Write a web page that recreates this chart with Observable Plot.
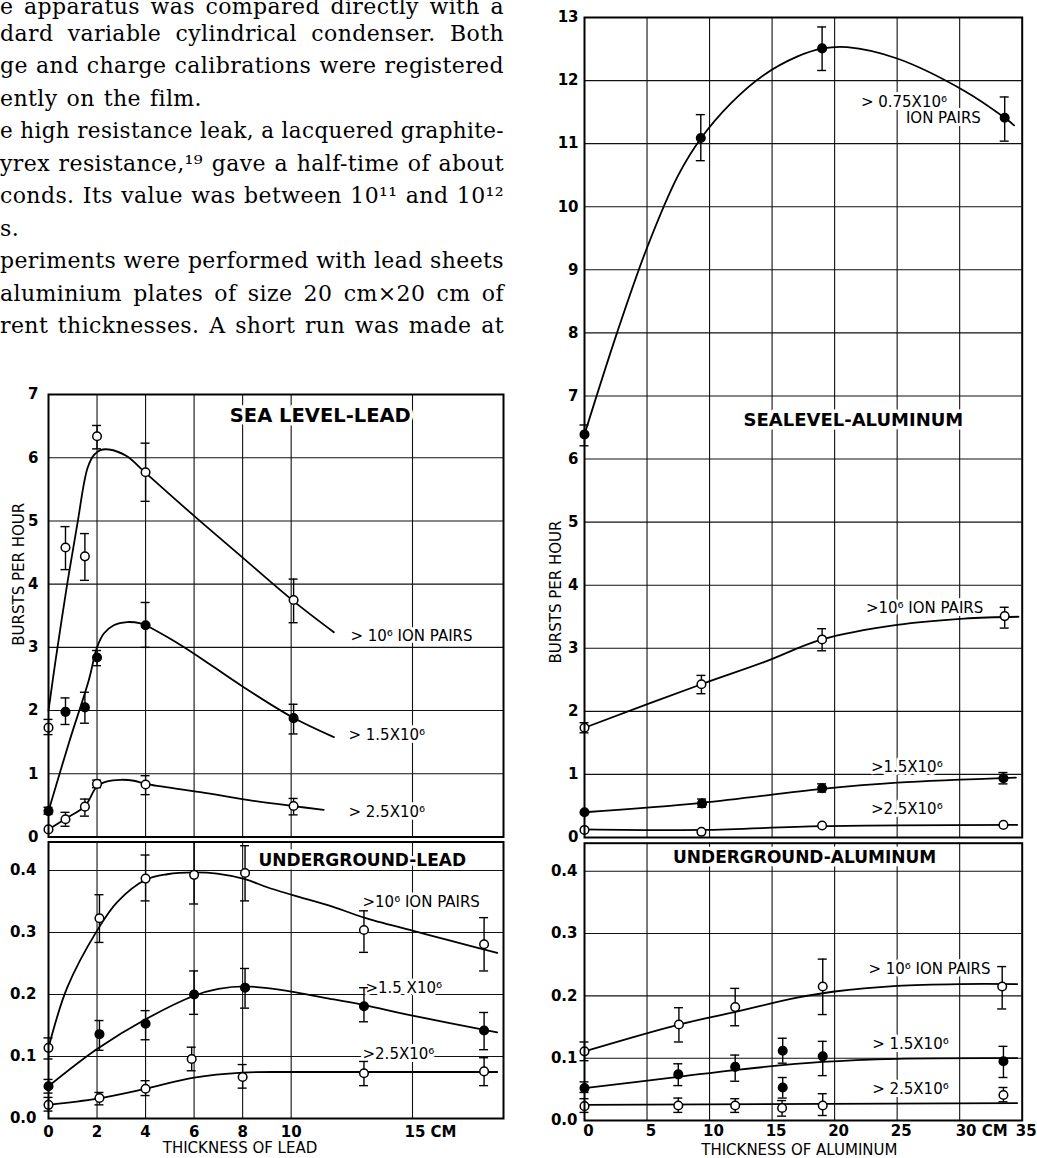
<!DOCTYPE html>
<html><head><meta charset="utf-8">
<script src="https://cdn.jsdelivr.net/npm/d3@7"></script>
<script src="https://cdn.jsdelivr.net/npm/@observablehq/plot@0.6"></script>
<style>
body{margin:0;background:#fff;}
#page{position:relative;width:1037px;height:1158px;overflow:hidden;background:#fff;}
#page svg{position:absolute;}
</style></head><body><div id="page"></div>
<script>
// ---------- prose lines (cropped text column) ----------
const proseLines = [
  "e apparatus was compared directly with a",
  "dard variable cylindrical condenser. Both",
  "ge and charge calibrations were registered",
  "ently on the film.",
  "e high resistance leak, a lacquered graphite-",
  "yrex resistance,¹⁹ gave a half-time of about",
  "conds. Its value was between 10¹¹ and 10¹²",
  "s.",
  "periments were performed with lead sheets",
  "aluminium plates of size 20 cm×20 cm of",
  "rent thicknesses. A short run was made at"
];

// ---------- tick values ----------
const leadTicksX = [0, 2, 4, 6, 8, 10];
const leadTickCM = [15];
const leadGridX = [2, 4, 6, 8, 10, 15];
const alTicksX = [0, 5, 10, 15, 20, 25, 35];
const alTickCM = [30];
const alGridX = [5, 10, 15, 20, 25, 30];
const slLeadTicksY = [0, 1, 2, 3, 4, 5, 6, 7];
const slLeadGridY = [1, 2, 3, 4, 5, 6];
const slAlTicksY = [0, 1, 2, 3, 4, 5, 6, 7, 8, 9, 10, 11, 12, 13];
const slAlGridY = [1, 2, 3, 4, 5, 6, 7, 8, 9, 10, 11, 12];
const ugTicksY = [0, 0.1, 0.2, 0.3, 0.4];
const ugGridY = [0.1, 0.2, 0.3, 0.4];

// ---------- SEA LEVEL - LEAD : [thickness cm, bursts/h, low, high] ----------
const slLead1e6 = [[0,1.73,1.62,1.86],[0.7,4.58,4.23,4.91],[1.5,4.44,4.06,4.80],[2.0,6.34,6.14,6.51],[4.0,5.77,5.31,6.23],[10.1,3.75,3.39,4.08]];
const slLead1e6Curve = [[0,2.0],[0.29,2.79],[0.77,4.0],[1.21,5.0],[1.46,5.59],[1.62,5.85],[1.87,6.04],[2.14,6.12],[2.49,6.13],[3.2,6.03],[4.0,5.76],[6.0,5.08],[8.0,4.42],[10.07,3.74],[11.76,3.24]];
const slLead15e6 = [[0,0.41,0.36,0.47],[0.7,1.98,1.78,2.20],[1.5,2.05,1.80,2.29],[2.0,2.84,2.71,2.95],[4.0,3.35,3.00,3.71],[10.1,1.88,1.63,2.10]];
const slLead15e6Curve = [[0,0.41],[0.85,1.5],[1.66,2.48],[2.0,3.0],[2.28,3.22],[2.69,3.35],[3.24,3.40],[3.79,3.38],[4.0,3.35],[5.0,3.14],[6.0,2.90],[8.0,2.38],[10.07,1.89],[11.76,1.58]];
const slLead25e6 = [[0,0.12,null,null],[0.7,0.28,0.17,0.39],[1.5,0.48,0.33,0.60],[2.0,0.84,0.78,0.90],[4.0,0.83,0.67,0.97],[10.1,0.49,0.35,0.61]];
const slLead25e6Curve = [[0,0.12],[0.7,0.29],[1.5,0.49],[2.0,0.80],[2.42,0.88],[2.97,0.905],[3.52,0.89],[4.0,0.84],[6.26,0.71],[8.32,0.58],[10.07,0.49],[11.34,0.43]];

// ---------- UNDERGROUND - LEAD ----------
const ugLead1e6 = [[0,0.114,0.096,0.13],[2.1,0.323,0.284,0.361],[4.0,0.387,0.351,0.425],[6.0,0.393,0.346,0.446],[8.1,0.396,0.351,0.44],[13.0,0.304,0.268,0.335],[17.95,0.281,0.238,0.324]];
const ugLead1e6Curve = [[0,0.114],[0.77,0.211],[2.0,0.303],[2.83,0.349],[4.0,0.385],[4.89,0.394],[6.0,0.397],[6.95,0.395],[8.1,0.386],[9.01,0.373],[10.1,0.360],[11.76,0.341],[13.0,0.324],[15.0,0.303],[16.56,0.287],[18.49,0.267]];
const ugLead15e6 = [[0,0.052,0.041,0.063],[2.1,0.136,0.11,0.158],[4.0,0.153,0.127,0.174],[6.0,0.2,0.168,0.238],[8.1,0.211,0.178,0.242],[13.0,0.181,0.156,0.211],[17.95,0.142,0.111,0.171]];
const ugLead15e6Curve = [[0,0.052],[2.0,0.112],[4.0,0.160],[6.0,0.198],[7.0,0.209],[8.1,0.213],[9.5,0.208],[11.76,0.192],[13.0,0.183],[15.0,0.166],[18.49,0.139]];
const ugLead25e6 = [[0,0.022,0.012,0.034],[2.1,0.033,0.022,0.042],[4.0,0.048,0.037,0.061],[5.9,0.096,0.077,0.115],[8.0,0.067,0.049,0.087],[13.0,0.073,0.053,0.092],[17.95,0.076,0.053,0.098]];
const ugLead25e6Curve = [[0,0.022],[2.0,0.032],[4.0,0.048],[6.0,0.066],[8.0,0.074],[10.0,0.075],[13.0,0.075],[18.49,0.075]];

// ---------- SEA LEVEL - ALUMINUM ----------
const slAl075e6 = [[0,6.39,6.21,6.54],[9.3,11.09,10.73,11.46],[19.0,12.51,12.16,12.85],[33.6,11.41,11.04,11.74]];
const slAl075e6Curve = [[0,6.39],[2.6,8.0],[5.0,9.35],[7.5,10.5],[9.33,11.09],[11.7,11.64],[14.35,12.09],[17.0,12.38],[19.07,12.51],[21.0,12.53],[25.0,12.35],[30.35,11.84],[33.6,11.41],[34.35,11.29]];
const slAl1e6 = [[0,1.74,1.66,1.82],[9.35,2.43,2.28,2.57],[19.0,3.14,2.96,3.31],[33.6,3.51,3.32,3.65]];
const slAl1e6Curve = [[0,1.74],[9.35,2.43],[14.35,2.78],[19.0,3.14],[25.0,3.37],[30.35,3.47],[34.7,3.50]];
const slAl15e6 = [[0,0.40,null,null],[9.4,0.54,0.48,0.61],[19.0,0.78,0.72,0.85],[33.5,0.94,0.85,1.03]];
const slAl15e6Curve = [[0,0.40],[9.4,0.55],[19.0,0.77],[25.0,0.87],[34.5,0.95]];
const slAl25e6 = [[0,0.12,null,null],[9.35,0.09,null,null],[19.0,0.19,null,null],[33.5,0.20,null,null]];
const slAl25e6Curve = [[0,0.13],[9.4,0.12],[19.0,0.18],[34.6,0.20]];

// ---------- UNDERGROUND - ALUMINUM ----------
const ugAl1e6 = [[0,0.111,0.096,0.126],[7.55,0.154,0.126,0.181],[12.05,0.182,0.152,0.212],[19.05,0.215,0.17,0.259],[33.4,0.215,0.179,0.247]];
const ugAl1e6Curve = [[0,0.111],[7.55,0.154],[12.0,0.174],[17.0,0.197],[20.0,0.207],[25.0,0.216],[30.0,0.219],[34.6,0.219]];
const ugAl15e6 = [[0,0.052,0.045,0.062],[7.5,0.074,0.056,0.091],[12.05,0.086,0.063,0.105],[15.85,0.112,0.092,0.132],[15.85,0.053,0.036,0.069],[19.05,0.103,0.072,0.127],[33.5,0.095,0.069,0.119]];
const ugAl15e6Curve = [[0,0.052],[7.5,0.07],[12.0,0.081],[19.0,0.094],[25.0,0.099],[34.6,0.1]];
const ugAl25e6 = [[0,0.023,0.013,0.035],[7.5,0.024,0.013,0.036],[12.05,0.024,0.013,0.035],[15.8,0.02,0.007,0.032],[19.05,0.024,0.008,0.043],[33.5,0.041,0.03,0.053]];
const ugAl25e6Curve = [[0,0.025],[34.6,0.028]];

// ---------- annotations [x, y, text] ----------
const slLeadLabels = [[12.44,3.17,"> 10⁶ ION PAIRS"],[12.36,1.61,"> 1.5X10⁶"],[12.36,0.39,"> 2.5X10⁶"]];
const ugLeadLabels = [[12.94,0.349,">10⁶ ION PAIRS"],[13.06,0.211,">1.5 X10⁶"],[12.94,0.104,">2.5X10⁶"]];
const slAlLabels = [[22.1,11.66,"> 0.75X10⁶"],[25.7,11.41,"ION PAIRS"],[22.5,3.63,">10⁶ ION PAIRS"],[22.9,1.11,">1.5X10⁶"],[22.9,0.455,">2.5X10⁶"]];
const ugAlLabels = [[22.7,0.243,"> 10⁶ ION PAIRS"],[23.0,0.122,"> 1.5X10⁶"],[23.0,0.051,"> 2.5X10⁶"]];

const page = document.getElementById("page");

// prose, justified by word spacing
(function(){
  const ns = "http://www.w3.org/2000/svg";
  const svg = document.createElementNS(ns, "svg");
  svg.setAttribute("width", 520); svg.setAttribute("height", 345);
  svg.style.left = "0px"; svg.style.top = "0px";
  page.appendChild(svg);
  const widths = [504,504,504,202,504,504,504,0,504,504,504];
  proseLines.forEach((s, i) => {
    const t = document.createElementNS(ns, "text");
    t.setAttribute("x", 0);
    t.setAttribute("y", i === 0 ? 14 : 8.2 + 32.5 * i);
    t.setAttribute("font-family", "DejaVu Serif");
    t.setAttribute("font-size", 22);
    t.setAttribute("fill", "#000");
    t.style.letterSpacing = "0.4px";
    t.textContent = s;
    svg.appendChild(t);
    const target = widths[i];
    if (target) {
      const natural = t.getComputedTextLength();
      const spaces = (s.match(/ /g) || []).length;
      if (natural < target && spaces) {
        t.style.wordSpacing = ((target - natural) / spaces) + "px";
      } else if (natural > target) {
        t.setAttribute("textLength", target);
        t.setAttribute("lengthAdjust", "spacingAndGlyphs");
      }
    }
  });
})();

function panel(o) {
  const cap = 4.5 * (o.xDomain[1] - o.xDomain[0]) / (o.width - o.ml - o.mr);
  const marks = [
    Plot.ruleY(o.yGrid, {stroke: "#111", strokeWidth: 1.1}),
    Plot.ruleX(o.xGrid, {stroke: "#111", strokeWidth: 1.1})
  ];
  if (o.title) marks.push(Plot.text([o.title], {x: o.title[0], y: o.title[1], text: d => d[2], fontSize: o.title[3], fontWeight: "bold", stroke: "white", strokeWidth: 7, fill: "#000"}));
  marks.push(Plot.text(o.labels, {x: d => d[0], y: d => d[1], text: d => d[2], textAnchor: "start", fontSize: 15, stroke: "white", strokeWidth: 6, fill: "#000"}));
  for (const s of o.series) {
    marks.push(Plot.line(s.curve, {x: d => d[0], y: d => d[1], curve: "catmull-rom", stroke: "#000", strokeWidth: 1.8}));
  }
  for (const s of o.series) {
    const e = s.pts.filter(p => p[2] != null);
    marks.push(Plot.ruleX(e, {x: d => d[0], y1: d => d[2], y2: d => d[3], stroke: "#000", strokeWidth: 1.4}));
    marks.push(Plot.ruleY(e, {y: d => d[2], x1: d => d[0] - cap, x2: d => d[0] + cap, stroke: "#000", strokeWidth: 1.4}));
    marks.push(Plot.ruleY(e, {y: d => d[3], x1: d => d[0] - cap, x2: d => d[0] + cap, stroke: "#000", strokeWidth: 1.4}));
    marks.push(Plot.dot(s.pts, {x: d => d[0], y: d => d[1], r: 4.3, fill: s.open ? "white" : "black", stroke: "black", strokeWidth: 1.5}));
  }
  marks.push(Plot.frame({stroke: "#000", strokeWidth: 2}));
  marks.push(Plot.axisY(o.yTicks, {tickSize: 0, tickPadding: o.yPad, tickFormat: o.yFmt, fontSize: 15, fontWeight: "bold", label: null}));
  if (o.xTicks) {
    marks.push(Plot.axisX(o.xTicks, {tickSize: 0, tickPadding: o.xPad, tickFormat: d => String(d), fontSize: 15, fontWeight: "bold", dx: o.xDx, label: null}));
    marks.push(Plot.axisX(o.xCM, {tickSize: 0, tickPadding: o.xPad, tickFormat: d => d + " CM", fontSize: 15, fontWeight: "bold", dx: o.xDx + 18, label: null}));
    marks.push(Plot.text([o.xLabel], {frameAnchor: "bottom", text: d => d, dx: o.xLabelDx, dy: 30, lineAnchor: "middle", fontSize: 15}));
  }
  if (o.yLabel) marks.push(Plot.text([o.yLabel], {frameAnchor: "left", text: d => d, rotate: -90, dx: o.yLabelDx, dy: o.yLabelDy, fontSize: 15}));
  const svg = Plot.plot({
    width: o.width, height: o.height,
    marginTop: o.mt, marginRight: o.mr, marginBottom: o.mb, marginLeft: o.ml,
    x: {domain: o.xDomain, axis: null},
    y: {domain: o.yDomain, axis: null},
    style: {fontFamily: "DejaVu Sans", background: "transparent", overflow: "visible", color: "#000"},
    marks
  });
  svg.style.left = o.left + "px";
  svg.style.top = o.top + "px";
  page.appendChild(svg);
}

const f1 = d => String(d);
const f01 = d => d.toFixed(1);

// Sea level - lead
panel({left: 0, top: 380, width: 520, height: 460, mt: 14, mr: 17, mb: 3.5, ml: 48,
  xDomain: [0, 18.75], yDomain: [0, 7], xGrid: leadGridX, yGrid: slLeadGridY,
  yTicks: slLeadTicksY, yFmt: f1, yPad: 10,
  title: [11.2, 6.67, "SEA LEVEL-LEAD", 19.5], labels: slLeadLabels,
  yLabel: "BURSTS PER HOUR", yLabelDx: -29, yLabelDy: 30,
  series: [
    {pts: slLead1e6, curve: slLead1e6Curve, open: true},
    {pts: slLead15e6, curve: slLead15e6Curve, open: false},
    {pts: slLead25e6, curve: slLead25e6Curve, open: true}
  ]});

// Underground - lead
panel({left: 0, top: 838, width: 520, height: 320, mt: 3.5, mr: 17, mb: 40, ml: 48,
  xDomain: [0, 18.75], yDomain: [0, 0.446], xGrid: leadGridX, yGrid: ugGridY,
  yTicks: ugTicksY, yFmt: f01, yPad: 12,
  xTicks: leadTicksX, xCM: leadTickCM, xPad: 8, xDx: 0, xLabel: "THICKNESS OF LEAD", xLabelDx: -36,
  title: [12.93, 0.416, "UNDERGROUND-LEAD", 17], labels: ugLeadLabels,
  series: [
    {pts: ugLead1e6, curve: ugLead1e6Curve, open: true},
    {pts: ugLead15e6, curve: ugLead15e6Curve, open: false},
    {pts: ugLead25e6, curve: ugLead25e6Curve, open: true}
  ]});

// Sea level - aluminum
panel({left: 530, top: 0, width: 507, height: 840, mt: 17, mr: 15.3, mb: 3, ml: 54,
  xDomain: [0, 35], yDomain: [0, 13], xGrid: alGridX, yGrid: slAlGridY,
  yTicks: slAlTicksY, yFmt: f1, yPad: 6,
  title: [21.5, 6.61, "SEALEVEL-ALUMINUM", 18], labels: slAlLabels,
  yLabel: "BURSTS PER HOUR", yLabelDx: -28, yLabelDy: 236,
  series: [
    {pts: slAl075e6, curve: slAl075e6Curve, open: false},
    {pts: slAl1e6, curve: slAl1e6Curve, open: true},
    {pts: slAl15e6, curve: slAl15e6Curve, open: false},
    {pts: slAl25e6, curve: slAl25e6Curve, open: true}
  ]});

// Underground - aluminum
panel({left: 530, top: 840, width: 507, height: 318, mt: 2.7, mr: 15.3, mb: 38, ml: 54,
  xDomain: [0, 35], yDomain: [0, 0.445], xGrid: alGridX, yGrid: ugGridY,
  yTicks: ugTicksY, yFmt: f01, yPad: 7,
  xTicks: alTicksX, xCM: alTickCM, xPad: 5, xDx: 4, xLabel: "THICKNESS OF ALUMINUM", xLabelDx: -4,
  title: [17.6, 0.4225, "UNDERGROUND-ALUMINUM", 17], labels: ugAlLabels,
  series: [
    {pts: ugAl1e6, curve: ugAl1e6Curve, open: true},
    {pts: ugAl15e6, curve: ugAl15e6Curve, open: false},
    {pts: ugAl25e6, curve: ugAl25e6Curve, open: true}
  ]});
</script></body></html>
